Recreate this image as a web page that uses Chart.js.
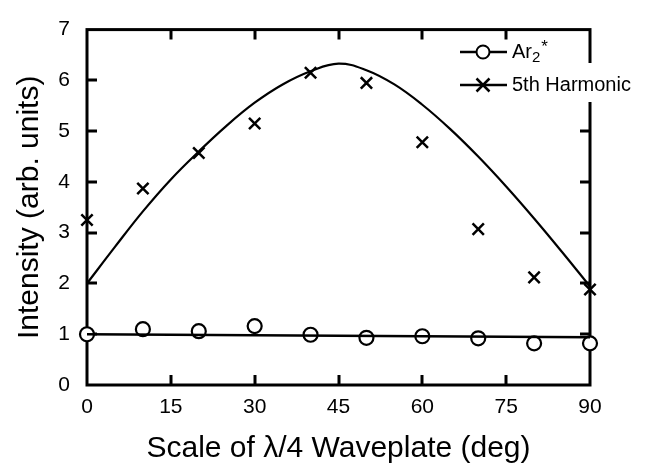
<!DOCTYPE html>
<html>
<head>
<meta charset="utf-8">
<script src="https://cdn.jsdelivr.net/npm/chart.js@4.4.1/dist/chart.umd.min.js"></script>
<style>
  html, body { margin: 0; padding: 0; background: #fff; }
  #wrap { width: 652px; height: 470px; }
</style>
</head>
<body>
<div id="wrap"><canvas id="chart"></canvas></div>
<script>
// measured points, waveplate angle in deg
const angles = [0, 10, 20, 30, 40, 50, 60, 70, 80, 90];
const ar2Values = [1.0, 1.10, 1.06, 1.16, 0.99, 0.93, 0.96, 0.92, 0.82, 0.82];
const harmValues = [3.25, 3.87, 4.57, 5.15, 6.15, 5.95, 4.78, 3.07, 2.12, 1.88];
// fit lines
const ar2FitAngles = [0, 90];
const ar2FitValues = [1.0, 0.94];
const harmFitAngles = [0, 5, 10, 15, 20, 25, 30, 35, 40, 45, 50, 55, 60, 65, 70, 75, 80, 85, 90];
const harmFitValues = [2.0, 2.72, 3.42, 4.05, 4.60, 5.11, 5.56, 5.92, 6.18, 6.33, 6.20, 5.92, 5.52, 5.04, 4.50, 3.91, 3.28, 2.62, 1.94];
// axis ticks
const xTicks = [0, 15, 30, 45, 60, 75, 90];
const yTicks = [0, 1, 2, 3, 4, 5, 6, 7];
const legendLabels = ["Ar", "5th Harmonic"];

const FONT = "'Liberation Sans', Arial, Helvetica, sans-serif";

const toXY = (xs, ys) => xs.map((x, i) => ({ x: x, y: ys[i] }));

//Draws the box with inward ticks on all four sides
const framePlugin = {
  id: "frame",
  beforeDatasetsDraw(chart) {
    const { ctx, chartArea: a, scales } = chart;
    const len = 10;
    ctx.save();
    ctx.strokeStyle = "#000";
    ctx.lineWidth = 3;
    ctx.lineCap = "butt";
    ctx.beginPath();
    xTicks.forEach((v) => {
      const px = Math.round(scales.x.getPixelForValue(v));
      if (v === xTicks[0] || v === xTicks[xTicks.length - 1]) return;
      ctx.moveTo(px, a.bottom); ctx.lineTo(px, a.bottom - len);
      ctx.moveTo(px, a.top); ctx.lineTo(px, a.top + len);
    });
    yTicks.forEach((v) => {
      const py = Math.round(scales.y.getPixelForValue(v));
      if (v === yTicks[0] || v === yTicks[yTicks.length - 1]) return;
      ctx.moveTo(a.left, py); ctx.lineTo(a.left + len, py);
      ctx.moveTo(a.right, py); ctx.lineTo(a.right - len, py);
    });
    ctx.stroke();
    ctx.lineJoin = "miter";
    ctx.strokeRect(a.left, a.top, a.right - a.left, a.bottom - a.top);
    ctx.restore();
  },
  afterDatasetsDraw(chart) {
    const { ctx } = chart;
    const x0 = 460, x1 = 507, xm = 483, tx = 512;
    const rows = [52, 85];
    ctx.save();
    // white patch behind the second label (it covers the right border)
    ctx.font = "20px " + FONT;
    const w2 = ctx.measureText(legendLabels[1]).width;
    ctx.fillStyle = "#fff";
    ctx.fillRect(tx - 3, 63, w2 + 6, 39);

    ctx.strokeStyle = "#000";
    ctx.lineWidth = 2.5;
    rows.forEach((y) => {
      ctx.beginPath();
      ctx.moveTo(x0, y); ctx.lineTo(x1, y);
      ctx.stroke();
    });
    // circle marker
    ctx.lineWidth = 2;
    ctx.beginPath();
    ctx.arc(xm, rows[0], 6.5, 0, Math.PI * 2);
    ctx.fillStyle = "#fff";
    ctx.fill();
    ctx.stroke();
    // cross marker
    const r = 6.5;
    ctx.lineWidth = 2.5;
    ctx.beginPath();
    ctx.moveTo(xm - r, rows[1] - r); ctx.lineTo(xm + r, rows[1] + r);
    ctx.moveTo(xm - r, rows[1] + r); ctx.lineTo(xm + r, rows[1] - r);
    ctx.stroke();

    ctx.fillStyle = "#000";
    ctx.textBaseline = "middle";
    ctx.textAlign = "left";
    ctx.font = "20px " + FONT;
    ctx.fillText(legendLabels[0], tx, rows[0]);
    let w = ctx.measureText(legendLabels[0]).width;
    ctx.font = "15px " + FONT;
    ctx.fillText("2", tx + w, rows[0] + 6);
    const w2b = ctx.measureText("2").width;
    ctx.font = "17px " + FONT;
    ctx.fillText("*", tx + w + w2b + 1, rows[0] - 5);
    ctx.font = "20px " + FONT;
    ctx.fillText(legendLabels[1], tx, rows[1]);
    ctx.restore();
  },
};

const ctx = document.getElementById("chart");
const myChart = new Chart(ctx, {
  type: "scatter",
  plugins: [framePlugin],
  data: {
    datasets: [
      {
        label: "Ar2* fit",
        data: toXY(ar2FitAngles, ar2FitValues),
        showLine: true,
        borderColor: "#000",
        borderWidth: 2.5,
        pointRadius: 0,
        clip: false,
      },
      {
        label: "5th Harmonic fit",
        data: toXY(harmFitAngles, harmFitValues),
        showLine: true,
        borderColor: "#000",
        borderWidth: 2.2,
        pointRadius: 0,
        tension: 0.4,
        clip: false,
      },
      {
        label: "Ar2*",
        data: toXY(angles, ar2Values),
        pointStyle: "circle",
        pointRadius: 7,
        pointBorderWidth: 2.2,
        pointBackgroundColor: "#fff",
        pointBorderColor: "#000",
        clip: false,
      },
      {
        label: "5th Harmonic",
        data: toXY(angles, harmValues),
        pointStyle: "crossRot",
        pointRadius: 8,
        pointBorderWidth: 2.5,
        pointBorderColor: "#000",
        clip: false,
      },
    ],
  },
  options: {
    responsive: true,
    maintainAspectRatio: false,
    animation: false,
    layout: { padding: { top: 16, right: 62, left: 0, bottom: 0 } },
    plugins: {
      legend: { display: false },
      tooltip: { enabled: false },
    },
    scales: {
      x: {
        type: "linear",
        min: 0,
        max: 90,
        afterBuildTicks: (s) => { s.ticks = xTicks.map((v) => ({ value: v })); },
        afterFit: (s) => { s.height = 85; },
        grid: { display: false, drawTicks: false },
        border: { display: false },
        ticks: { color: "#000", padding: 10, font: { family: FONT, size: 21 } },
        title: {
          display: true,
          text: "Scale of λ/4 Waveplate (deg)",
          color: "#000",
          font: { family: FONT, size: 30 },
          padding: { top: 0, bottom: 3 },
        },
      },
      y: {
        type: "linear",
        min: 0,
        max: 7,
        afterBuildTicks: (s) => { s.ticks = yTicks.map((v) => ({ value: v })); },
        afterFit: (s) => { s.width = 87; },
        grid: { display: false, drawTicks: false },
        border: { display: false },
        ticks: { color: "#000", padding: 17, font: { family: FONT, size: 21 } },
        title: {
          display: true,
          text: "Intensity (arb. units)",
          color: "#000",
          font: { family: FONT, size: 30 },
          padding: { top: 12, bottom: 0 },
        },
      },
    },
  },
});
</script>
</body>
</html>
